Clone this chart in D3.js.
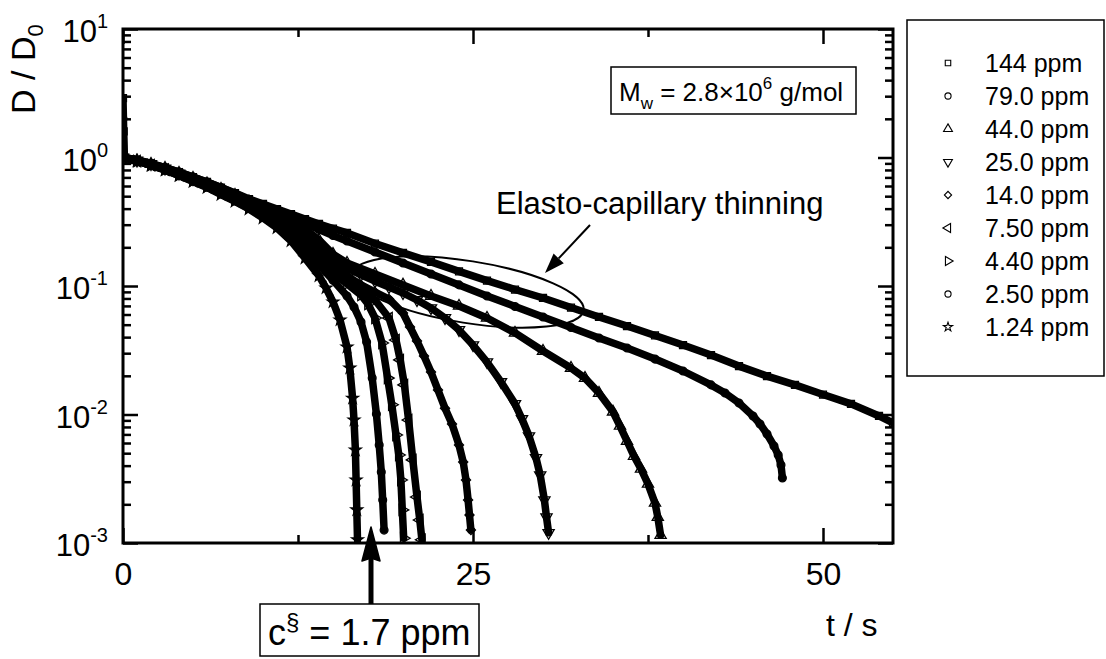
<!DOCTYPE html>
<html><head><meta charset="utf-8">
<script src="https://cdn.jsdelivr.net/npm/d3@7"></script>
<style>
body{margin:0;background:#fff}
svg{font-family:"Liberation Sans",Arial,sans-serif}
</style>
</head><body>
<svg id="chart" width="1106" height="659"></svg>
<script>
// ---------------- data (t in s, D/D0) ----------------
const t_144 = [0,0.05,0.1,1,2,3,4,5,6,7,8,9,10,11,12,13,14,15,16,18,20,22,24,26,28,30,32,34,36,38,40,42,44,46,48,50,52,54,55];
const d_144 = [2.9,1.6,1.0,0.956,0.898,0.836,0.771,0.705,0.645,0.584,0.529,0.475,0.435,0.397,0.363,0.332,0.304,0.280,0.259,0.214,0.181,0.154,0.130,0.110,0.0939,0.0807,0.0680,0.0574,0.0488,0.0412,0.0347,0.0290,0.0238,0.0199,0.0170,0.0143,0.0121,0.00974,0.00859];

const t_79 = [0,0.05,1,2,3,4,5,6,7,8,9,10,11,12,13,14,15,16,18,20,22,24,26,28,30,32,34,36,38,40,42,43,44,45,45.5,46,46.5,46.8,47.0,47.1];
const d_79 = [2.0,1.0,0.956,0.898,0.836,0.771,0.705,0.645,0.584,0.525,0.467,0.419,0.380,0.341,0.307,0.275,0.247,0.224,0.184,0.151,0.124,0.102,0.0836,0.0693,0.0574,0.0475,0.0394,0.0329,0.0270,0.0218,0.0170,0.0147,0.0123,0.00974,0.00844,0.00705,0.00569,0.00484,0.00405,0.00321];

const t_44 = [0,1,2,3,4,5,6,7,8,9,10,11,12,13,14,15,16,18,20,22,24,26,28,30,32,33,34,35,35.5,36,36.5,37,37.5,38,38.2,38.4];
const d_44 = [1.0,0.948,0.890,0.829,0.758,0.693,0.628,0.569,0.511,0.455,0.405,0.363,0.321,0.278,0.228,0.177,0.151,0.124,0.102,0.0836,0.0699,0.0564,0.0431,0.0312,0.0230,0.0192,0.0147,0.0105,0.00814,0.00622,0.00475,0.00377,0.00288,0.00205,0.00159,0.00115];

const t_25 = [0,1,2,3,4,5,6,7,8,9,10,11,12,13,14,15,16,17,18,19,20,21,22,23,24,25,26,27,28,28.5,29,29.5,29.8,30.1,30.25,30.4];
const d_25 = [1.0,0.948,0.890,0.821,0.751,0.680,0.616,0.554,0.493,0.439,0.390,0.344,0.298,0.249,0.205,0.162,0.138,0.122,0.109,0.0982,0.0882,0.0778,0.0674,0.0564,0.0455,0.0347,0.0256,0.0179,0.0121,0.00923,0.00680,0.00459,0.00338,0.00216,0.00159,0.00120];

const t_14 = [0,1,2,3,4,5,6,7,8,9,10,11,12,13,14,15,16,17,18,19,20,20.5,21,21.5,22,22.5,23,23.5,24,24.3,24.5,24.65,24.75,24.85];
const d_14 = [1.0,0.948,0.882,0.814,0.744,0.674,0.606,0.539,0.480,0.427,0.377,0.326,0.278,0.228,0.184,0.146,0.120,0.102,0.0898,0.0792,0.0616,0.0480,0.0373,0.0285,0.0214,0.0155,0.0112,0.00844,0.00579,0.00427,0.00309,0.00216,0.00165,0.00126];

const t_7_5 = [0,1,2,3,4,5,6,7,8,9,10,11,12,13,14,15,16,17,18,19,19.5,19.8,20.1,20.4,20.7,21.0,21.2,21.35];
const d_7_5 = [1.0,0.939,0.874,0.806,0.737,0.668,0.600,0.534,0.475,0.419,0.367,0.315,0.263,0.212,0.168,0.133,0.109,0.0931,0.0778,0.0564,0.0380,0.0266,0.0170,0.00906,0.00443,0.00228,0.00151,0.00106];

const t_4_4 = [0,1,2,3,4,5,6,7,8,9,10,11,12,13,14,15,16,17,17.5,18,18.5,18.9,19.2,19.5,19.7,19.85,19.95,20.05];
const d_4_4 = [1.0,0.939,0.874,0.806,0.731,0.662,0.595,0.529,0.467,0.412,0.357,0.304,0.249,0.201,0.159,0.126,0.104,0.0851,0.0724,0.0564,0.0360,0.0192,0.0119,0.00693,0.00484,0.00309,0.00181,0.00109];

const t_2_5 = [0,1,2,3,4,5,6,7,8,9,10,11,12,13,14,15,16,16.5,17,17.4,17.8,18.1,18.3,18.45,18.55,18.65];
const d_2_5 = [1.0,0.939,0.867,0.799,0.724,0.656,0.589,0.520,0.459,0.401,0.347,0.293,0.236,0.187,0.146,0.111,0.0836,0.0687,0.0525,0.0367,0.0192,0.0101,0.00579,0.00357,0.00216,0.00126];

const t_1_24 = [0,1,2,3,4,5,6,7,8,9,10,11,12,13,14,14.5,15,15.5,16,16.2,16.4,16.5,16.6,16.65,16.7,16.75];
const d_1_24 = [1.0,0.939,0.867,0.799,0.724,0.650,0.584,0.515,0.455,0.397,0.338,0.283,0.224,0.165,0.120,0.0965,0.0751,0.0544,0.0335,0.0230,0.0134,0.00906,0.00529,0.00309,0.00181,0.00106];

const seriesLabels = ["144 ppm","79.0 ppm","44.0 ppm","25.0 ppm","14.0 ppm","7.50 ppm","4.40 ppm","2.50 ppm","1.24 ppm"];
const seriesMarkers = ["square","circle","triUp","triDown","diamond","triLeft","triRight","circle","star"];
const seriesTimes = [t_144,t_79,t_44,t_25,t_14,t_7_5,t_4_4,t_2_5,t_1_24];
const seriesValues = [d_144,d_79,d_44,d_25,d_14,d_7_5,d_4_4,d_2_5,d_1_24];

const xMajorTicks = [0,25,50];
const xMinorTicks = [12.5,37.5];
const yMajorTicks = [1e-3,1e-2,1e-1,1,10];
const yTickExponents = ["-3","-2","-1","0","1"];
const yMinorMultipliers = [2,3,4,5,6,7,8,9];

// ---------------- layout ----------------
const L = 123, R = 893, T = 29, B = 543;
const svg = d3.select("#chart");
const x = d3.scaleLinear().domain([0,55]).range([L,R]);
const y = d3.scaleLog().domain([1e-3,10]).range([B,T]);

const yMinorTicks = [];
yMajorTicks.slice(0,-1).forEach(d => yMinorMultipliers.forEach(m => yMinorTicks.push(d*m)));

svg.append("defs").append("clipPath").attr("id","plotclip")
  .append("rect").attr("x",L).attr("y",T-2).attr("width",R-L).attr("height",B-T+2);

// ---------------- series ----------------
const table = seriesLabels.map((lab,i) => ({
  label: lab, marker: seriesMarkers[i],
  points: seriesTimes[i].map((t,j) => ({t, d: seriesValues[i][j]}))
}));

function symPath(kind, k){
  k = k || 1;
  const s = {
    square: d3.symbol(d3.symbolSquare, 30*k)(),
    circle: d3.symbol(d3.symbolCircle, 30*k)(),
    triUp: d3.symbol(d3.symbolTriangle, 34*k)(),
    triDown: d3.symbol(d3.symbolTriangle, 34*k)(),
    triLeft: d3.symbol(d3.symbolTriangle, 34*k)(),
    triRight: d3.symbol(d3.symbolTriangle, 34*k)(),
    diamond: d3.symbol(d3.symbolSquare, 26*k)(),
    star: d3.symbol(d3.symbolStar, 26*k)()
  };
  return s[kind];
}
const symRot = {square:0,circle:0,triUp:0,triDown:180,triLeft:-90,triRight:90,diamond:45,star:0};

const plot = svg.append("g").attr("clip-path","url(#plotclip)");
const line = d3.line().x(p => x(p.t)).y(p => y(p.d)).curve(d3.curveLinear);

plot.selectAll("path.band").data(table).join("path")
  .attr("class","band")
  .attr("d", s => line(s.points))
  .attr("fill","none").attr("stroke","#000").attr("stroke-width",7.5)
  .attr("stroke-linejoin","round").attr("stroke-linecap","round");

table.forEach(s => {
  plot.append("g").selectAll("path").data(s.points).join("path")
    .attr("d", symPath(s.marker, 1.6))
    .attr("transform", p => `translate(${x(p.t)},${y(p.d)}) rotate(${symRot[s.marker]})`)
    .attr("fill","none").attr("stroke","#000").attr("stroke-width",1.3);
});

// ---------------- axes ----------------
const tickW = 2.5;
function styleAxis(g){ g.select(".domain").remove(); g.selectAll(".tick line").attr("stroke","#000").attr("stroke-width",tickW); }

svg.append("g").attr("transform",`translate(0,${B})`)
  .call(d3.axisBottom(x).tickValues(xMajorTicks).tickSizeInner(-15).tickSizeOuter(0).tickPadding(19).tickFormat(d3.format("d")))
  .call(styleAxis)
  .call(g => g.selectAll("text").attr("font-size",32).attr("fill","#000").attr("font-family","Liberation Sans, Arial, sans-serif"));
svg.append("g").attr("transform",`translate(0,${B})`)
  .call(d3.axisBottom(x).tickValues(xMinorTicks).tickSizeInner(-8).tickSizeOuter(0).tickFormat(""))
  .call(styleAxis);
svg.append("g").attr("transform",`translate(0,${T})`)
  .call(d3.axisTop(x).tickValues(xMajorTicks).tickSizeInner(-15).tickSizeOuter(0).tickFormat(""))
  .call(styleAxis);
svg.append("g").attr("transform",`translate(0,${T})`)
  .call(d3.axisTop(x).tickValues(xMinorTicks).tickSizeInner(-8).tickSizeOuter(0).tickFormat(""))
  .call(styleAxis);
svg.append("g").attr("transform",`translate(${L},0)`)
  .call(d3.axisLeft(y).tickValues(yMajorTicks).tickSizeInner(-15).tickSizeOuter(0).tickFormat(""))
  .call(styleAxis);
svg.append("g").attr("transform",`translate(${L},0)`)
  .call(d3.axisLeft(y).tickValues(yMinorTicks).tickSizeInner(-8).tickSizeOuter(0).tickFormat(""))
  .call(styleAxis);
svg.append("g").attr("transform",`translate(${R},0)`)
  .call(d3.axisRight(y).tickValues(yMajorTicks).tickSizeInner(-15).tickSizeOuter(0).tickFormat(""))
  .call(styleAxis);
svg.append("g").attr("transform",`translate(${R},0)`)
  .call(d3.axisRight(y).tickValues(yMinorTicks).tickSizeInner(-8).tickSizeOuter(0).tickFormat(""))
  .call(styleAxis);

svg.append("rect").attr("x",L).attr("y",T).attr("width",R-L).attr("height",B-T)
  .attr("fill","none").attr("stroke","#000").attr("stroke-width",3);

// y tick labels 10^n
yMajorTicks.forEach((v,i) => {
  const tx = svg.append("text").attr("x",108).attr("y",y(v)+13)
    .attr("text-anchor","end").attr("font-size",31).attr("fill","#000");
  tx.append("tspan").text("10");
  tx.append("tspan").attr("font-size",20).attr("dy",-14).text(yTickExponents[i]);
});

// axis titles
svg.append("text").attr("x",826).attr("y",636).attr("font-size",32).attr("fill","#000").text("t / s");
const yt = svg.append("text").attr("transform","translate(35,114) rotate(-90)")
  .attr("font-size",34).attr("fill","#000");
yt.append("tspan").text("D / D");
yt.append("tspan").attr("font-size",22).attr("dy",8).text("0");

// ---------------- legend ----------------
const lg = svg.append("g");
lg.append("rect").attr("x",907).attr("y",20).attr("width",197).attr("height",356)
  .attr("fill","#fff").attr("stroke","#000").attr("stroke-width",1.5);
table.forEach((s,i) => {
  const cy = 63 + 33*i;
  lg.append("path").attr("d",symPath(s.marker))
    .attr("transform",`translate(948,${cy}) rotate(${symRot[s.marker]})`)
    .attr("fill","none").attr("stroke","#000").attr("stroke-width",1.1);
  lg.append("text").attr("x",985).attr("y",cy+9).attr("font-size",25).attr("fill","#000").text(s.label);
});

// ---------------- annotations ----------------
svg.append("rect").attr("x",611).attr("y",67).attr("width",245).attr("height",47)
  .attr("fill","#fff").attr("stroke","#000").attr("stroke-width",1.5);
const mw = svg.append("text").attr("x",619).attr("y",101).attr("font-size",26).attr("fill","#000");
mw.append("tspan").text("M");
mw.append("tspan").attr("font-size",17).attr("dy",8).text("w");
mw.append("tspan").attr("dy",-8).text(" = 2.8×10");
mw.append("tspan").attr("font-size",17).attr("dy",-12).text("6");
mw.append("tspan").attr("dy",12).text(" g/mol");

svg.append("text").attr("x",496).attr("y",214).attr("font-size",31).attr("fill","#000").text("Elasto-capillary thinning");

// elasto arrow
(function(){
  const x1=590,y1=225,x2=545,y2=273;
  const ang=Math.atan2(y2-y1,x2-x1), hl=20, hw=7;
  const bx=x2-hl*Math.cos(ang), by=y2-hl*Math.sin(ang);
  svg.append("line").attr("x1",x1).attr("y1",y1).attr("x2",bx).attr("y2",by).attr("stroke","#000").attr("stroke-width",2);
  svg.append("path").attr("d",`M${x2},${y2}L${bx+hw*Math.sin(ang)},${by-hw*Math.cos(ang)}L${bx-hw*Math.sin(ang)},${by+hw*Math.cos(ang)}Z`).attr("fill","#000");
})();

svg.append("ellipse").attr("cx",0).attr("cy",0).attr("rx",117).attr("ry",31)
  .attr("transform","translate(468,292) rotate(9)")
  .attr("fill","none").attr("stroke","#000").attr("stroke-width",2);

// c§ box and arrow
svg.append("rect").attr("x",260).attr("y",604).attr("width",219).attr("height",52)
  .attr("fill","#fff").attr("stroke","#000").attr("stroke-width",1.5);
const cs = svg.append("text").attr("x",268).attr("y",645).attr("font-size",36).attr("fill","#000");
cs.append("tspan").text("c");
cs.append("tspan").attr("font-size",24).attr("dy",-15).text("§");
cs.append("tspan").attr("dy",15).text(" = 1.7 ppm");
svg.append("line").attr("x1",371).attr("y1",604).attr("x2",371).attr("y2",556).attr("stroke","#000").attr("stroke-width",5);
svg.append("path").attr("d","M371,527L380,561L371,558L362,561Z").attr("fill","#000").attr("stroke","#000").attr("stroke-width",1.5).attr("stroke-linejoin","round");
</script>
</body></html>
